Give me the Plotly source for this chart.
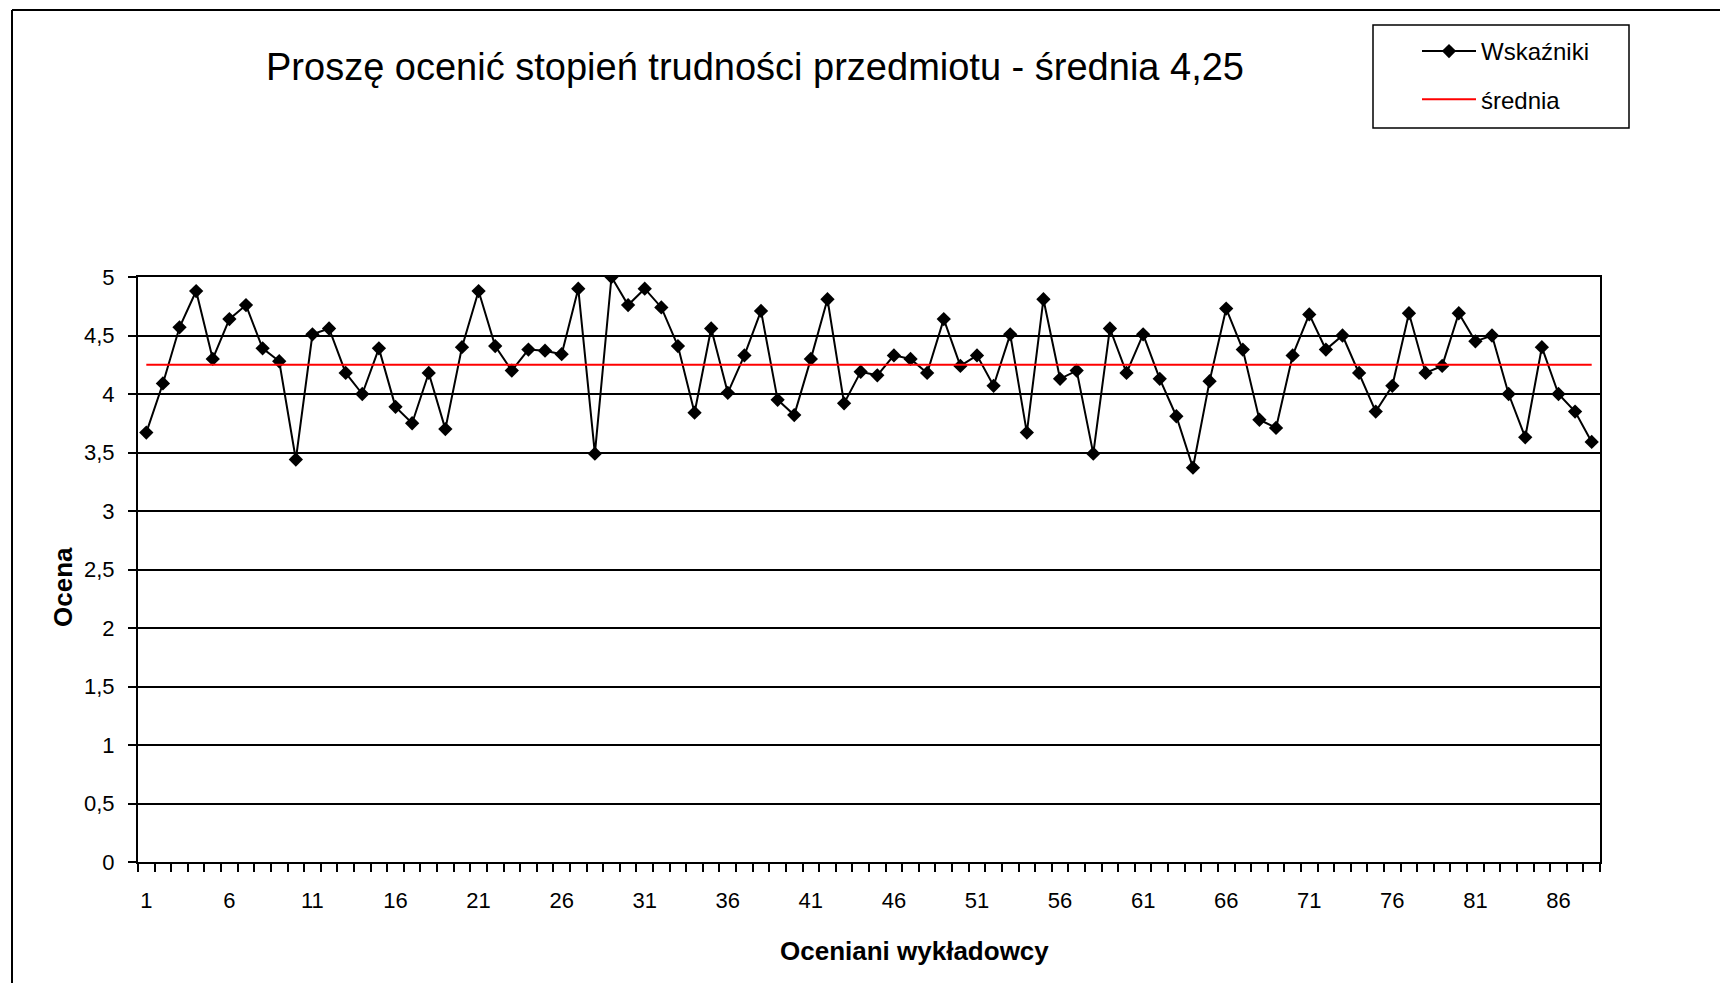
import plotly.graph_objects as go

lecturers = list(range(1, 89))
scores = [
    3.67, 4.09, 4.57, 4.88, 4.30, 4.64, 4.76, 4.39, 4.28, 3.44,
    4.51, 4.56, 4.18, 4.00, 4.39, 3.89, 3.75, 4.18, 3.70, 4.40,
    4.88, 4.41, 4.20, 4.38, 4.37, 4.34, 4.90, 3.49, 5.00, 4.76,
    4.90, 4.74, 4.41, 3.84, 4.56, 4.01, 4.33, 4.71, 3.95, 3.82,
    4.30, 4.81, 3.92, 4.19, 4.16, 4.33, 4.30, 4.18, 4.64, 4.24,
    4.33, 4.07, 4.51, 3.67, 4.81, 4.13, 4.20, 3.49, 4.56, 4.18,
    4.51, 4.13, 3.81, 3.37, 4.11, 4.73, 4.38, 3.78, 3.71, 4.33,
    4.68, 4.38, 4.50, 4.18, 3.85, 4.07, 4.69, 4.18, 4.24, 4.69,
    4.45, 4.50, 4.00, 3.63, 4.40, 4.00, 3.85, 3.59,
]
mean_value = 4.25
mean_line = [mean_value] * len(lecturers)
x_tick_labels = list(range(1, 89, 5))
y_tick_values = [0, 0.5, 1, 1.5, 2, 2.5, 3, 3.5, 4, 4.5, 5]

title_text = "Proszę ocenić stopień trudności przedmiotu - średnia 4,25"
x_title = "Oceniani wykładowcy"
y_title = "Ocena"

# page has an 8px body margin; figure sized to fit the window
OFF = 8
W, H = 1728 - OFF, 983 - OFF
L, R, T, B = 138, 1600, 277, 862  # plot area in window pixels
pw, ph = R - L, B - T


def px(xp):
    return (xp - L) / pw


def py(yp):
    return (B - yp) / ph


FONT = "Liberation Sans, Arial, sans-serif"

fig = go.Figure()
fig.add_trace(go.Scatter(
    x=lecturers, y=scores, name="Wskaźniki", mode="lines+markers",
    line=dict(color="black", width=2),
    marker=dict(symbol="diamond", size=11, color="black"),
    legendgroup="a",
))
fig.add_trace(go.Scatter(
    x=lecturers, y=mean_line, name="średnia", mode="lines",
    line=dict(color="#FF0000", width=2),
    legendgroup="b",
))

shapes = [
    dict(type="line", xref="paper", yref="paper", x0=px(12), x1=px(12), y0=py(10), y1=py(1000),
         line=dict(color="black", width=2)),
    dict(type="line", xref="paper", yref="paper", x0=px(12), x1=px(1740), y0=py(10), y1=py(10),
         line=dict(color="black", width=2)),
    dict(type="rect", xref="paper", yref="paper", x0=px(1373), x1=px(1629), y0=py(25), y1=py(128),
         line=dict(color="black", width=1.5), fillcolor="rgba(0,0,0,0)"),
]

annotations = [
    dict(text="<b>" + x_title + "</b>", xref="paper", yref="paper", x=px(915), y=py(951),
         showarrow=False, font=dict(family=FONT, size=26, color="black"),
         xanchor="center", yanchor="middle"),
    dict(text="<b>" + y_title + "</b>", xref="paper", yref="paper", x=px(63), y=py(587),
         showarrow=False, textangle=-90, font=dict(family=FONT, size=26, color="black"),
         xanchor="center", yanchor="middle"),
]

fig.update_layout(
    width=W, height=H,
    margin=dict(l=L - OFF, r=W - (R - OFF), t=T - OFF, b=H - (B - OFF), pad=0),
    paper_bgcolor="white", plot_bgcolor="white",
    separators=", ",
    font=dict(family=FONT, color="black", size=22),
    title=dict(text=title_text, x=(755 - OFF) / W, y=1 - (67 - OFF) / H, xref="container",
               yref="container", xanchor="center", yanchor="middle",
               font=dict(family=FONT, size=38, color="black")),
    showlegend=True,
    legend=dict(x=px(1417), y=py(29), xanchor="left", yanchor="top", bgcolor="rgba(0,0,0,0)",
                borderwidth=0, font=dict(family=FONT, size=24, color="black"),
                traceorder="grouped", tracegroupgap=14, itemwidth=54),
    shapes=shapes,
    annotations=annotations,
    xaxis=dict(range=[0.5, 88.5], tickmode="array", tickvals=x_tick_labels,
               ticktext=[str(v) for v in x_tick_labels], ticks="", showgrid=False, zeroline=False,
               showline=True, linecolor="black", linewidth=2, mirror=True,
               ticklabelstandoff=18,
               minor=dict(ticks="outside", ticklen=8, tickwidth=1.5, tickcolor="black",
                          tickmode="linear", tick0=0.5, dtick=1, showgrid=False),
               tickfont=dict(family=FONT, size=22, color="black")),
    yaxis=dict(range=[0, 5], tickmode="array", tickvals=y_tick_values, ticks="outside", ticklen=8,
               tickwidth=1.5, tickcolor="black", showgrid=True, gridcolor="black", gridwidth=1.5,
               zeroline=False, showline=True, linecolor="black", linewidth=2, mirror=True,
               ticklabelstandoff=9,
               tickfont=dict(family=FONT, size=22, color="black")),
)

fig.write_html("out.html")
